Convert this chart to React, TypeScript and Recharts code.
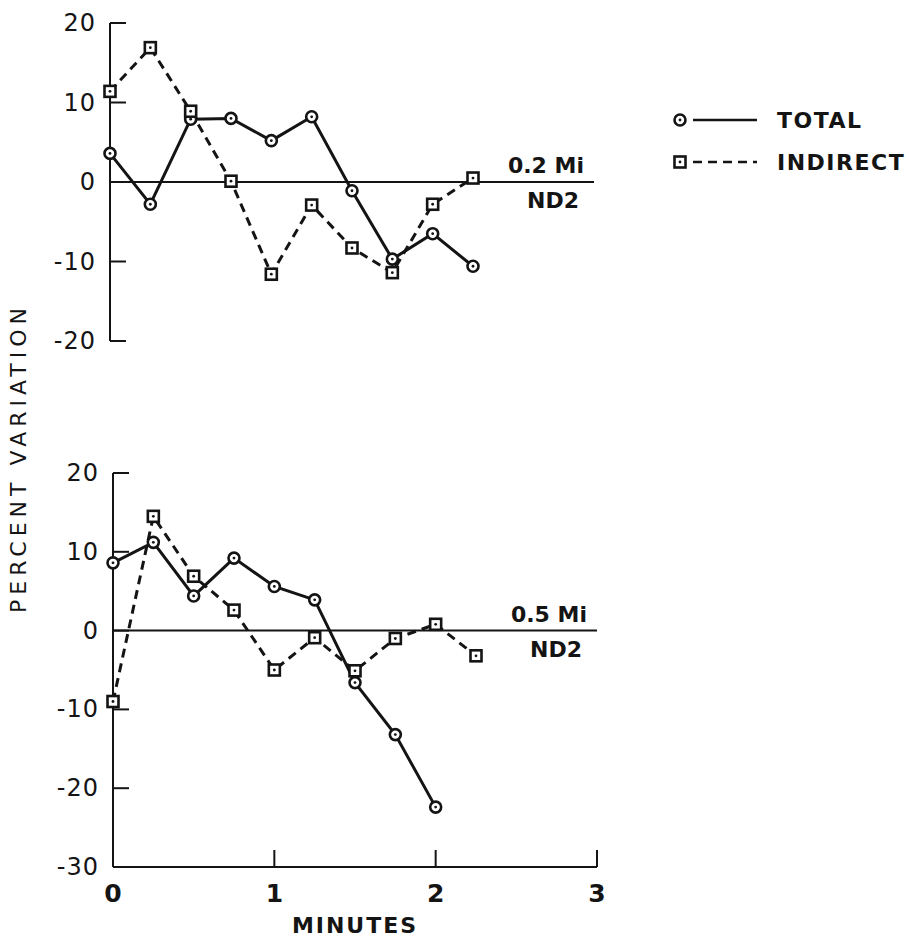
import { LineChart, Line, XAxis, YAxis, ReferenceLine, Legend, Label } from 'recharts'

// sample times (minutes)
const minutes = [0, 0.25, 0.5, 0.75, 1, 1.25, 1.5, 1.75, 2, 2.25]

// 0.2 Mi / ND2 panel
const total02 = [3.6, -2.8, 7.9, 8.0, 5.2, 8.2, -1.1, -9.7, -6.5, -10.6]
const indirect02 = [11.4, 16.9, 8.9, 0.1, -11.6, -2.9, -8.3, -11.4, -2.8, 0.5]

// 0.5 Mi / ND2 panel
const total05 = [8.6, 11.2, 4.4, 9.2, 5.6, 3.9, -6.6, -13.2, -22.4]
const indirect05 = [-9.0, 14.5, 6.9, 2.6, -5.0, -0.9, -5.1, -1.0, 0.8, -3.2]

const yTicksTop = [-20, -10, 0, 10, 20]
const yTicksBottom = [-30, -20, -10, 0, 10, 20]
const xTicks = [0, 1, 2, 3]

const INK = '#141414'
const FONT = '"DejaVu Sans", sans-serif'

const toPoints = (vals: number[]) => vals.map((v, i) => ({ t: minutes[i], v }))

function CircleDot({ cx, cy }: any) {
  if (cx == null || cy == null) return null
  return (
    <g>
      <circle cx={cx} cy={cy} r={5.5} fill="#fff" stroke={INK} strokeWidth={2.6} />
      <circle cx={cx} cy={cy} r={1.4} fill={INK} />
    </g>
  )
}

function SquareDot({ cx, cy }: any) {
  if (cx == null || cy == null) return null
  return (
    <g>
      <rect x={cx - 5.5} y={cy - 5.5} width={11} height={11} fill="#fff" stroke={INK} strokeWidth={2.6} />
      <circle cx={cx} cy={cy} r={1.4} fill={INK} />
    </g>
  )
}

function YTick({ x, y, payload, corner }: any) {
  return (
    <g>
      {payload.value !== corner && (
        <line x1={x} y1={y} x2={x + 16} y2={y} stroke={INK} strokeWidth={2} />
      )}
      <text x={x - 14} y={y + 8} textAnchor="end" fontSize={24} letterSpacing={1} fontFamily={FONT} fill={INK}>
        {payload.value}
      </text>
    </g>
  )
}

function XTick({ x, y, payload }: any) {
  return (
    <g>
      {payload.value > 0 && <line x1={x} y1={y} x2={x} y2={y - 17} stroke={INK} strokeWidth={2} />}
      <text x={x} y={y + 35} textAnchor="middle" fontSize={25} fontWeight="bold" fontFamily={FONT} fill={INK}>
        {payload.value}
      </text>
    </g>
  )
}

function BandLabel({ viewBox, upper, lower }: any) {
  const right = viewBox.x + viewBox.width
  const y = viewBox.y
  return (
    <g fontFamily={FONT} fontWeight="bold" fontSize={22} fill={INK}>
      <text x={right - 10} y={y - 9} textAnchor="end">{upper}</text>
      <text x={right - 15} y={y + 26} textAnchor="end">{lower}</text>
    </g>
  )
}

function LegendBox({ payload }: any) {
  const rows = [...(payload || [])].sort(
    (a: any, b: any) => (a.payload?.strokeDasharray ? 1 : 0) - (b.payload?.strokeDasharray ? 1 : 0)
  )
  return (
    <svg width={241} height={84}>
      {rows.map((entry: any, i: number) => {
        const cy = 20 + i * 42
        const dashed = !!entry.payload?.strokeDasharray
        return (
          <g key={entry.value}>
            <line x1={25} y1={cy} x2={89} y2={cy} stroke={INK} strokeWidth={2.6} strokeDasharray={dashed ? '9 6' : undefined} />
            {dashed ? <SquareDot cx={12} cy={cy} /> : <CircleDot cx={12} cy={cy} />}
            <text x={109} y={cy + 8} fontFamily={FONT} fontWeight="bold" fontSize={22} letterSpacing={1.5} fill={INK}>
              {entry.value}
            </text>
          </g>
        )
      })}
    </svg>
  )
}

export default function App() {
  return (
    <div style={{ position: 'absolute', left: 0, top: 0, width: 909, height: 944, background: '#fff' }}>
      <div style={{ position: 'absolute', left: 0, top: 0 }}>
        <LineChart width={909} height={944} margin={{ top: 23, right: 315, bottom: 603, left: 0 }}>
          <XAxis dataKey="t" type="number" domain={[0, 3]} hide />
          <YAxis
            type="number"
            domain={[-20, 20]}
            ticks={yTicksTop}
            interval={0}
            width={110}
            stroke={INK}
            strokeWidth={2}
            tickLine={false}
            tickSize={0}
            tickMargin={0}
            tick={<YTick corner={null} />}
          />
          <ReferenceLine y={0} stroke={INK} strokeWidth={2} label={<BandLabel upper="0.2 Mi" lower="ND2" />} />
          <Legend
            layout="horizontal"
            verticalAlign="middle"
            content={<LegendBox />}
            wrapperStyle={{ left: 668, top: 100, width: 241, height: 84 }}
          />
          <Line
            data={toPoints(total02)}
            dataKey="v"
            name="TOTAL"
            type="linear"
            stroke={INK}
            strokeWidth={3}
            dot={<CircleDot />}
            activeDot={false}
            isAnimationActive={false}
          />
          <Line
            data={toPoints(indirect02)}
            dataKey="v"
            name="INDIRECT"
            type="linear"
            stroke={INK}
            strokeWidth={3}
            strokeDasharray="9 6"
            dot={<SquareDot />}
            activeDot={false}
            isAnimationActive={false}
          />
          <text x={18} y={458} transform="rotate(-90 18 458)" textAnchor="middle" dominantBaseline="central"
            fontFamily={FONT} fontSize={22} letterSpacing={5} fill={INK}>
            PERCENT VARIATION
          </text>
        </LineChart>
      </div>
      <div style={{ position: 'absolute', left: 0, top: 0 }}>
        <LineChart width={909} height={944} margin={{ top: 473, right: 312, bottom: 0, left: 0 }}>
          <XAxis
            dataKey="t"
            type="number"
            domain={[0, 3]}
            ticks={xTicks}
            interval={0}
            height={77}
            stroke={INK}
            strokeWidth={2}
            tickLine={false}
            tickSize={0}
            tickMargin={0}
            tick={<XTick />}
          >
            <Label value="MINUTES" position="insideBottom" offset={11} fontFamily={FONT} fontWeight="bold"
              fontSize={22} letterSpacing={2} fill={INK} />
          </XAxis>
          <YAxis
            type="number"
            domain={[-30, 20]}
            ticks={yTicksBottom}
            interval={0}
            width={113}
            stroke={INK}
            strokeWidth={2}
            tickLine={false}
            tickSize={0}
            tickMargin={0}
            tick={<YTick corner={-30} />}
          />
          <ReferenceLine y={0} stroke={INK} strokeWidth={2} label={<BandLabel upper="0.5 Mi" lower="ND2" />} />
          <Line
            data={toPoints(total05)}
            dataKey="v"
            name="TOTAL"
            type="linear"
            stroke={INK}
            strokeWidth={3}
            dot={<CircleDot />}
            activeDot={false}
            isAnimationActive={false}
          />
          <Line
            data={toPoints(indirect05)}
            dataKey="v"
            name="INDIRECT"
            type="linear"
            stroke={INK}
            strokeWidth={3}
            strokeDasharray="9 6"
            dot={<SquareDot />}
            activeDot={false}
            isAnimationActive={false}
          />
        </LineChart>
      </div>
    </div>
  )
}
